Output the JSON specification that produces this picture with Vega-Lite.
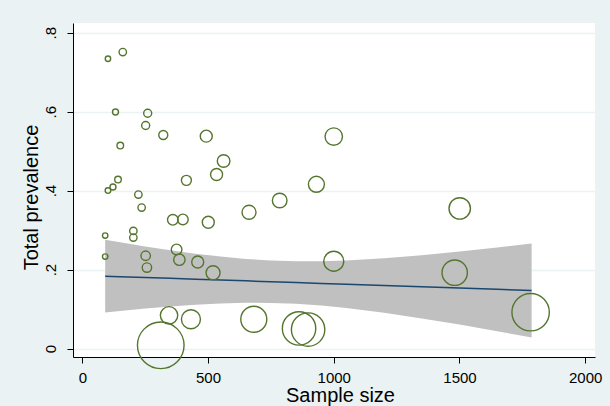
{
  "$schema": "https://vega.github.io/schema/vega-lite/v6.json",
  "width": 522,
  "height": 334,
  "autosize": {"type": "none"},
  "padding": {"left": 73, "top": 23, "right": 15, "bottom": 49},
  "background": "#eaf2f3",
  "config": {
    "font": "Liberation Sans",
    "view": {"fill": "white", "stroke": null},
    "axis": {
      "domainColor": "black",
      "domainWidth": 1,
      "tickColor": "black",
      "tickWidth": 1,
      "tickSize": 6,
      "labelFontSize": 15,
      "labelColor": "black",
      "titleFontSize": 20,
      "titleFontWeight": "normal",
      "titleColor": "black"
    },
    "axisX": {
      "grid": false,
      "labelPadding": 7,
      "labelBaseline": "top",
      "titleX": 267,
      "titleY": 44.5,
      "titleBaseline": "alphabetic",
      "titleAlign": "center"
    },
    "axisY": {
      "grid": true,
      "gridColor": "#eaf2f3",
      "gridWidth": 1.5,
      "labelAngle": 270,
      "labelAlign": "center",
      "labelBaseline": "alphabetic",
      "labelPadding": 12,
      "titleAngle": 270,
      "titleX": -36,
      "titleY": 174,
      "titleAlign": "center",
      "titleBaseline": "alphabetic"
    }
  },
  "datasets": {
    "fit": [
      {"n": 91, "lower": 0.0912, "fitted": 0.1833, "upper": 0.2754},
      {"n": 150, "lower": 0.0951, "fitted": 0.1820, "upper": 0.2689},
      {"n": 250, "lower": 0.1012, "fitted": 0.1799, "upper": 0.2586},
      {"n": 350, "lower": 0.1064, "fitted": 0.1777, "upper": 0.2490},
      {"n": 450, "lower": 0.1109, "fitted": 0.1756, "upper": 0.2403},
      {"n": 550, "lower": 0.1142, "fitted": 0.1735, "upper": 0.2328},
      {"n": 650, "lower": 0.1159, "fitted": 0.1714, "upper": 0.2269},
      {"n": 750, "lower": 0.1156, "fitted": 0.1692, "upper": 0.2228},
      {"n": 850, "lower": 0.1133, "fitted": 0.1671, "upper": 0.2209},
      {"n": 950, "lower": 0.1089, "fitted": 0.1650, "upper": 0.2211},
      {"n": 1050, "lower": 0.1027, "fitted": 0.1628, "upper": 0.2229},
      {"n": 1200, "lower": 0.0906, "fitted": 0.1596, "upper": 0.2286},
      {"n": 1350, "lower": 0.0763, "fitted": 0.1564, "upper": 0.2365},
      {"n": 1500, "lower": 0.0606, "fitted": 0.1532, "upper": 0.2458},
      {"n": 1650, "lower": 0.0439, "fitted": 0.1500, "upper": 0.2561},
      {"n": 1787, "lower": 0.0282, "fitted": 0.1471, "upper": 0.2660}
    ],
    "studies": [
      {"n": 102, "prevalence": 0.734, "weight": 7.3},
      {"n": 161, "prevalence": 0.751, "weight": 13.7},
      {"n": 132, "prevalence": 0.599, "weight": 9},
      {"n": 260, "prevalence": 0.596, "weight": 16},
      {"n": 252, "prevalence": 0.565, "weight": 16},
      {"n": 322, "prevalence": 0.541, "weight": 20.3},
      {"n": 151, "prevalence": 0.514, "weight": 10.9},
      {"n": 142, "prevalence": 0.428, "weight": 10.9},
      {"n": 414, "prevalence": 0.426, "weight": 25},
      {"n": 122, "prevalence": 0.409, "weight": 9},
      {"n": 102, "prevalence": 0.400, "weight": 7.8},
      {"n": 223, "prevalence": 0.390, "weight": 13.7},
      {"n": 236, "prevalence": 0.357, "weight": 13.7},
      {"n": 360, "prevalence": 0.326, "weight": 28.1},
      {"n": 400, "prevalence": 0.327, "weight": 28.1},
      {"n": 91, "prevalence": 0.286, "weight": 7.3},
      {"n": 203, "prevalence": 0.298, "weight": 13.7},
      {"n": 203, "prevalence": 0.281, "weight": 13.7},
      {"n": 91, "prevalence": 0.233, "weight": 7.3},
      {"n": 252, "prevalence": 0.235, "weight": 22.1},
      {"n": 257, "prevalence": 0.205, "weight": 22.1},
      {"n": 375, "prevalence": 0.251, "weight": 28.1},
      {"n": 386, "prevalence": 0.225, "weight": 32.5},
      {"n": 459, "prevalence": 0.219, "weight": 36},
      {"n": 345, "prevalence": 0.084, "weight": 75.7},
      {"n": 432, "prevalence": 0.074, "weight": 90.3},
      {"n": 312, "prevalence": 0.008, "weight": 543},
      {"n": 493, "prevalence": 0.538, "weight": 36},
      {"n": 562, "prevalence": 0.475, "weight": 39.7},
      {"n": 534, "prevalence": 0.441, "weight": 36},
      {"n": 931, "prevalence": 0.416, "weight": 64},
      {"n": 785, "prevalence": 0.375, "weight": 53.3},
      {"n": 663, "prevalence": 0.345, "weight": 49},
      {"n": 501, "prevalence": 0.320, "weight": 36},
      {"n": 520, "prevalence": 0.192, "weight": 49},
      {"n": 1000, "prevalence": 0.537, "weight": 75.7},
      {"n": 1501, "prevalence": 0.355, "weight": 114.5},
      {"n": 1000, "prevalence": 0.221, "weight": 100},
      {"n": 682, "prevalence": 0.074, "weight": 169},
      {"n": 862, "prevalence": 0.051, "weight": 278.9},
      {"n": 898, "prevalence": 0.048, "weight": 278.9},
      {"n": 1481, "prevalence": 0.192, "weight": 161.3},
      {"n": 1783, "prevalence": 0.092, "weight": 349.7}
    ]
  },
  "layer": [
    {
      "data": {"name": "fit"},
      "mark": {"type": "area", "color": "#c0c0c0", "opacity": 1},
      "encoding": {
        "x": {"field": "n", "type": "quantitative",
          "scale": {"domain": [-37, 2039], "nice": false, "zero": false},
          "axis": {"title": "Sample size", "values": [0, 500, 1000, 1500, 2000], "format": "d"}},
        "y": {"field": "lower", "type": "quantitative",
          "scale": {"domain": [-0.0215, 0.8246], "nice": false, "zero": false},
          "axis": {"title": "Total prevalence", "values": [0, 0.2, 0.4, 0.6, 0.8],
            "labelExpr": "datum.value == 0 ? '0' : replace(format(datum.value, '.1f'), '0.', '.')"}},
        "y2": {"field": "upper"}
      }
    },
    {
      "data": {"name": "fit"},
      "mark": {"type": "line", "color": "#1a476f", "strokeWidth": 1.5},
      "encoding": {
        "x": {"field": "n", "type": "quantitative",
          "scale": {"domain": [-37, 2039], "nice": false, "zero": false},
          "axis": {"title": "Sample size", "values": [0, 500, 1000, 1500, 2000], "format": "d"}},
        "y": {"field": "fitted", "type": "quantitative",
          "scale": {"domain": [-0.0215, 0.8246], "nice": false, "zero": false},
          "axis": {"title": "Total prevalence", "values": [0, 0.2, 0.4, 0.6, 0.8],
            "labelExpr": "datum.value == 0 ? '0' : replace(format(datum.value, '.1f'), '0.', '.')"}}
      }
    },
    {
      "data": {"name": "studies"},
      "mark": {"type": "point", "shape": "circle", "filled": false, "color": "#55752f", "strokeWidth": 1.4, "opacity": 1},
      "encoding": {
        "x": {"field": "n", "type": "quantitative",
          "scale": {"domain": [-37, 2039], "nice": false, "zero": false},
          "axis": {"title": "Sample size", "values": [0, 500, 1000, 1500, 2000], "format": "d"}},
        "y": {"field": "prevalence", "type": "quantitative",
          "scale": {"domain": [-0.0215, 0.8246], "nice": false, "zero": false},
          "axis": {"title": "Total prevalence", "values": [0, 0.2, 0.4, 0.6, 0.8],
            "labelExpr": "datum.value == 0 ? '0' : replace(format(datum.value, '.1f'), '0.', '.')"}},
        "size": {"field": "weight", "type": "quantitative",
          "scale": {"type": "linear", "domain": [0, 543], "range": [0, 2172]},
          "legend": null}
      }
    }
  ]
}
